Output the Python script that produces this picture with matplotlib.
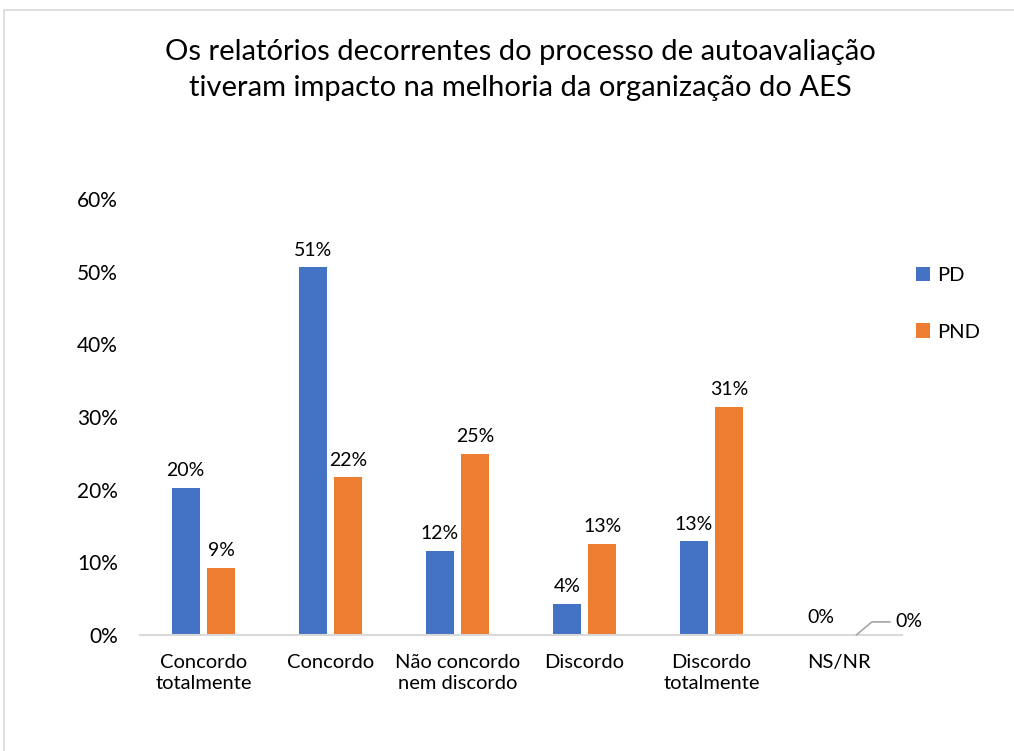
import matplotlib.pyplot as plt
import numpy as np
from matplotlib.patches import Rectangle

categories = ["Concordo\ntotalmente", "Concordo", "Não concordo\nnem discordo",
              "Discordo", "Discordo\ntotalmente", "NS/NR"]
pd_values = [0.202, 0.506, 0.116, 0.043, 0.129, 0.0]
pnd_values = [0.092, 0.217, 0.249, 0.125, 0.314, 0.0]
pd_labels = ["20%", "51%", "12%", "4%", "13%", "0%"]
pnd_labels = ["9%", "22%", "25%", "13%", "31%", "0%"]

BLUE = "#4472C4"
ORANGE = "#ED7D31"
GRID = "#D9D9D9"

plt.rcParams["font.family"] = ["Lato", "DejaVu Sans"]

fig = plt.figure(figsize=(10.14, 7.51), dpi=100)
ax = fig.add_axes([140 / 1014, 1 - 635 / 751, 762 / 1014, 436 / 751])

x = np.arange(len(categories))
w = 0.22
off = 0.14
ax.bar(x - off, pd_values, w, color=BLUE, label="PD")
ax.bar(x + off, pnd_values, w, color=ORANGE, label="PND")

for i in range(len(categories)):
    ax.text(x[i] - off, pd_values[i] + 0.012, pd_labels[i], ha="center", va="bottom", fontsize=14)
    if i < len(categories) - 1:
        ax.text(x[i] + off, pnd_values[i] + 0.012, pnd_labels[i], ha="center", va="bottom", fontsize=14)

# leader-line label for the last zero bar
ax.annotate(pnd_labels[-1], xy=(x[-1] + off, pnd_values[-1]),
            xytext=(x[-1] + off + 0.31, pnd_values[-1] + 0.018),
            ha="left", va="center", fontsize=14,
            arrowprops=dict(arrowstyle="-", color="#A6A6A6", lw=1.2,
                            connectionstyle="angle,angleA=0,angleB=40,rad=0",
                            shrinkA=2, shrinkB=0))

ax.set_xlim(-0.5, len(categories) - 0.5)
ax.set_ylim(0, 0.6)
ax.set_yticks(np.arange(0, 0.61, 0.1))
ax.set_yticklabels([f"{int(round(v * 100))}%" for v in np.arange(0, 0.61, 0.1)], fontsize=15)
ax.set_xticks(x)
ax.set_xticklabels(categories, fontsize=14.5, linespacing=1.25)
ax.tick_params(axis="both", length=0)
ax.tick_params(axis="y", pad=16)
ax.tick_params(axis="x", pad=14)
for s in ["top", "right", "left"]:
    ax.spines[s].set_visible(False)
ax.spines["bottom"].set_color(GRID)
ax.spines["bottom"].set_linewidth(1.5)

fig.text(520 / 1014, 1 - 70 / 751,
         "Os relatórios decorrentes do processo de autoavaliação\ntiveram impacto na melhoria da organização do AES",
         ha="center", va="center", fontsize=21, linespacing=1.5)

fig.legend(loc="upper left", bbox_to_anchor=(898 / 1014, 1 - 249 / 751), frameon=False,
           fontsize=14.5, handlelength=0.7, handleheight=0.7, labelspacing=1.95, handletextpad=0.35)

fig.patches.append(Rectangle((4 / 1014, -0.05), 1.1, 1 - 10 / 751 + 0.05, transform=fig.transFigure,
                             fill=False, edgecolor=GRID, lw=1.2))

fig.savefig("out.png", dpi=100)
